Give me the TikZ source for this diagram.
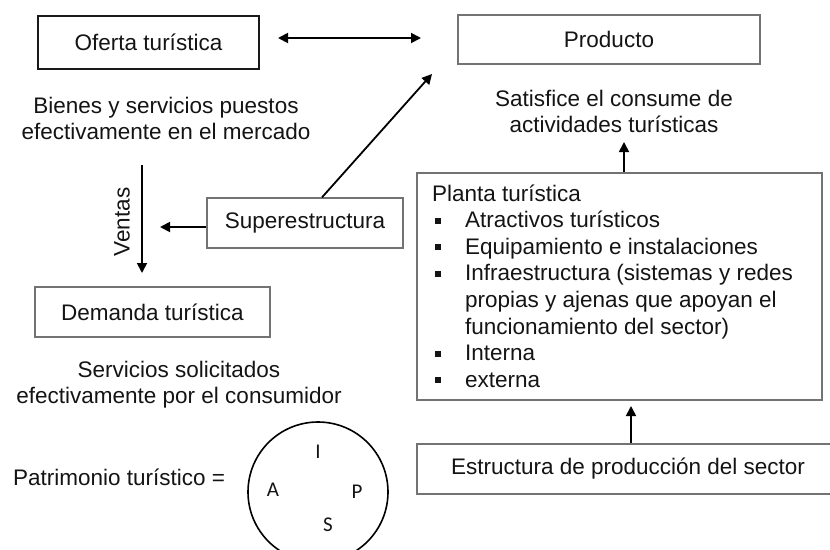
\documentclass[tikz,border=0pt]{standalone}
\usepackage{fontspec}
\setmainfont{Liberation Sans}
\newfontfamily\letterfont{Carlito}
\usetikzlibrary{arrows.meta,calc}
\tikzset{
  txt/.style={font=\fontsize{22.5}{27}\selectfont, text=black!92, inner sep=0pt},
  boxa/.style={draw=black!90, line width=1.6pt, txt, rectangle},
  boxb/.style={draw=black!55, line width=1.3pt, txt, rectangle},
  arr/.style={draw=black, line width=1.8pt, -{Triangle[length=10pt,width=10pt]}},
  darr/.style={draw=black, line width=1.8pt, {Triangle[length=10pt,width=10pt]}-{Triangle[length=10pt,width=10pt]}},
  ln/.style={txt, anchor=base},
  lnw/.style={txt, anchor=base west},
  lett/.style={font=\letterfont\fontsize{21}{24}\selectfont, text=black!92, inner sep=0pt},
}
\newcommand{\bulsq}{\makebox[30pt][l]{\rule[4pt]{6pt}{6pt}}}
\begin{document}
\begin{tikzpicture}[x=1pt,y=-1pt]
\useasboundingbox (0,0) rectangle (830,549);
% boxes
\node[boxa, minimum width=221pt, minimum height=53pt] (oferta) at (148.5,42.5) {Oferta turística};
\node[boxb, minimum width=302pt, minimum height=49pt] (producto) at (609,39.5) {Producto};
\node[boxb, minimum width=196pt, minimum height=50pt] (super) at (305,223) {Superestructura};
\node[boxb, minimum width=235pt, minimum height=50pt] (demanda) at (152.5,312) {Demanda turística};
\node[boxb, minimum width=405pt, minimum height=227pt] (planta) at (619.5,286.5) {};
\node[boxb, minimum width=422pt, minimum height=50pt] (estructura) at (628,469) {Estructura de producción del sector};
% free texts
\node[ln] (bien1) at (166,113) {Bienes y servicios puestos};
\node[ln] (bien2) at (166,139) {efectivamente en el mercado};
\node[ln] (sat1) at (614,106) {Satisfice el consume de};
\node[ln] (sat2) at (614,132) {actividades turísticas};
\node[ln] (serv1) at (179,377) {Servicios solicitados};
\node[ln] (serv2) at (179,403) {efectivamente por el consumidor};
\node[lnw] (patri) at (13,485) {Patrimonio turístico =};
\node[txt, rotate=90] (ventas) at (122,222) {Ventas};
% planta content
\node[lnw] (p0) at (432,201) {Planta turística};
\node[lnw] (p1) at (435,227.6) {\bulsq Atractivos turísticos};
\node[lnw] (p2) at (435,254.2) {\bulsq Equipamiento e instalaciones};
\node[lnw] (p3) at (435,280.8) {\bulsq Infraestructura (sistemas y redes};
\node[lnw] (p4) at (465,307.4) {propias y ajenas que apoyan el};
\node[lnw] (p5) at (465,334) {funcionamiento del sector)};
\node[lnw] (p6) at (435,360.6) {\bulsq Interna};
\node[lnw] (p7) at (435,387.2) {\bulsq externa};
% circle
\node[draw=black, line width=1.6pt, circle, minimum size=140pt, inner sep=0pt] (circ) at (318,492) {};
\node[lett] (cI) at (318,452) {I};
\node[lett] (cA) at (273,490) {A};
\node[lett] (cP) at (357,492) {P};
\node[lett] (cS) at (328,525) {S};
% connectors
\coordinate (dl) at (278,38);
\coordinate (dr) at (421,38);
\draw[darr] (dl) -- (dr);
\coordinate (diagtip) at (432,74);
\coordinate (diagstart) at (322,198);
\draw[arr] (super.north -| diagstart) -- (diagtip);
\coordinate (sl) at (160,227);
\draw[arr] (super.west |- sl) -- (sl);
\coordinate (vt) at (142,165);
\coordinate (vb) at (142,273);
\draw[arr] (vt) -- (vb);
\coordinate (st) at (624,142);
\draw[arr] (planta.north -| st) -- (st);
\coordinate (ea) at (631,406);
\draw[arr] (estructura.north -| ea) -- (ea);
\end{tikzpicture}
\end{document}
